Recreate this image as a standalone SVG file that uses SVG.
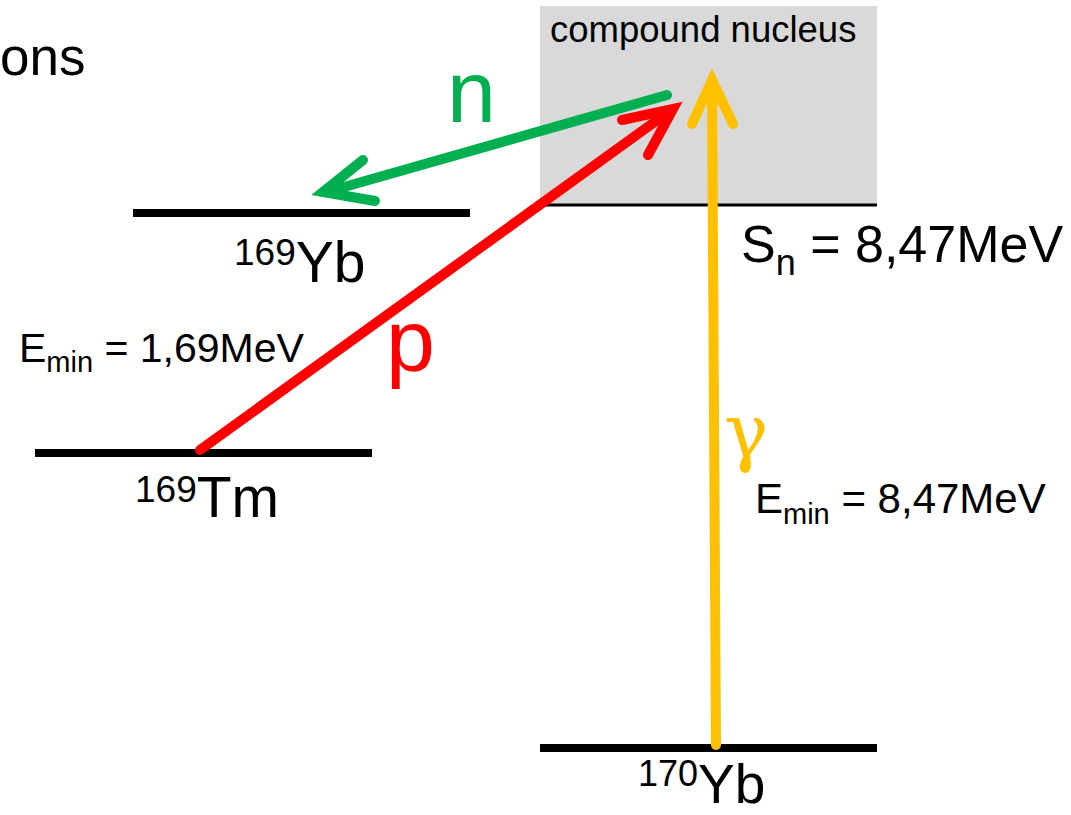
<svg xmlns="http://www.w3.org/2000/svg" width="1071" height="815" viewBox="0 0 1071 815">
<style>
text{font-family:"Liberation Sans",Arial,sans-serif;fill:#000}
.lvl{stroke:#000;stroke-width:8}
.arr{fill:none;stroke-linecap:round;stroke-linejoin:miter}
</style>
<rect width="1071" height="815" fill="#fff"/>
<text x="0" y="75" font-size="53">ons</text>
<g id="compound">
<rect x="540" y="6" width="337" height="198" fill="#d9d9d9"/>
<line x1="540" y1="205" x2="877" y2="205" stroke="#000" stroke-width="3"/>
<text x="550" y="42" font-size="36.5">compound nucleus</text>
<text x="741" y="262" font-size="52">S<tspan font-size="36" dy="13">n</tspan><tspan dy="-13"> = 8,47MeV</tspan></text>
</g>
<g id="yb169">
<line class="lvl" x1="133" y1="213" x2="470" y2="213"/>
<text x="234" y="282" font-size="57"><tspan font-size="37" dy="-17">169</tspan><tspan dy="17">Yb</tspan></text>
</g>
<g id="tm169">
<line class="lvl" x1="35" y1="453" x2="372" y2="453"/>
<text x="19" y="362" font-size="41">E<tspan font-size="29" dy="10">min</tspan><tspan dy="-10"> = 1,69MeV</tspan></text>
<text x="135" y="517" font-size="57"><tspan font-size="37" dy="-15">169</tspan><tspan dy="15">Tm</tspan></text>
</g>
<g id="yb170">
<line class="lvl" x1="540" y1="748" x2="877" y2="748"/>
<text x="638" y="803" font-size="55"><tspan font-size="36" dy="-17">170</tspan><tspan dy="17">Yb</tspan></text>
<text x="755" y="513" font-size="42">E<tspan font-size="29" dy="11">min</tspan><tspan dy="-11"> = 8,47MeV</tspan></text>
</g>
<g id="connectors">
<g id="n-arrow">
<line class="arr" x1="667" y1="95" x2="330" y2="191" stroke="#00b050" stroke-width="10" stroke-linecap="butt"/>
<polyline class="arr" points="363,160 323,192 375,201" stroke="#00b050" stroke-width="10"/>
<text x="447" y="122" font-size="88" style="fill:#00b050">n</text>
</g>
<g id="p-arrow">
<line class="arr" x1="200" y1="450" x2="667" y2="113" stroke="#ff0000" stroke-width="10" stroke-linecap="butt"/>
<polyline class="arr" points="622,120 673,109 648,155" stroke="#ff0000" stroke-width="10"/>
<text x="386" y="371" font-size="88" style="fill:#ff0000">p</text>
</g>
<g id="g-arrow">
<line class="arr" x1="716" y1="745" x2="712" y2="85" stroke="#ffc000" stroke-width="10" stroke-linecap="butt"/>
<polyline class="arr" points="692,124 712,80 733,124" stroke="#ffc000" stroke-width="10"/>
<text x="724" y="457" font-size="74" style="fill:#ffc000;font-family:'DejaVu Serif',serif">γ</text>
</g>
</g>
</svg>
